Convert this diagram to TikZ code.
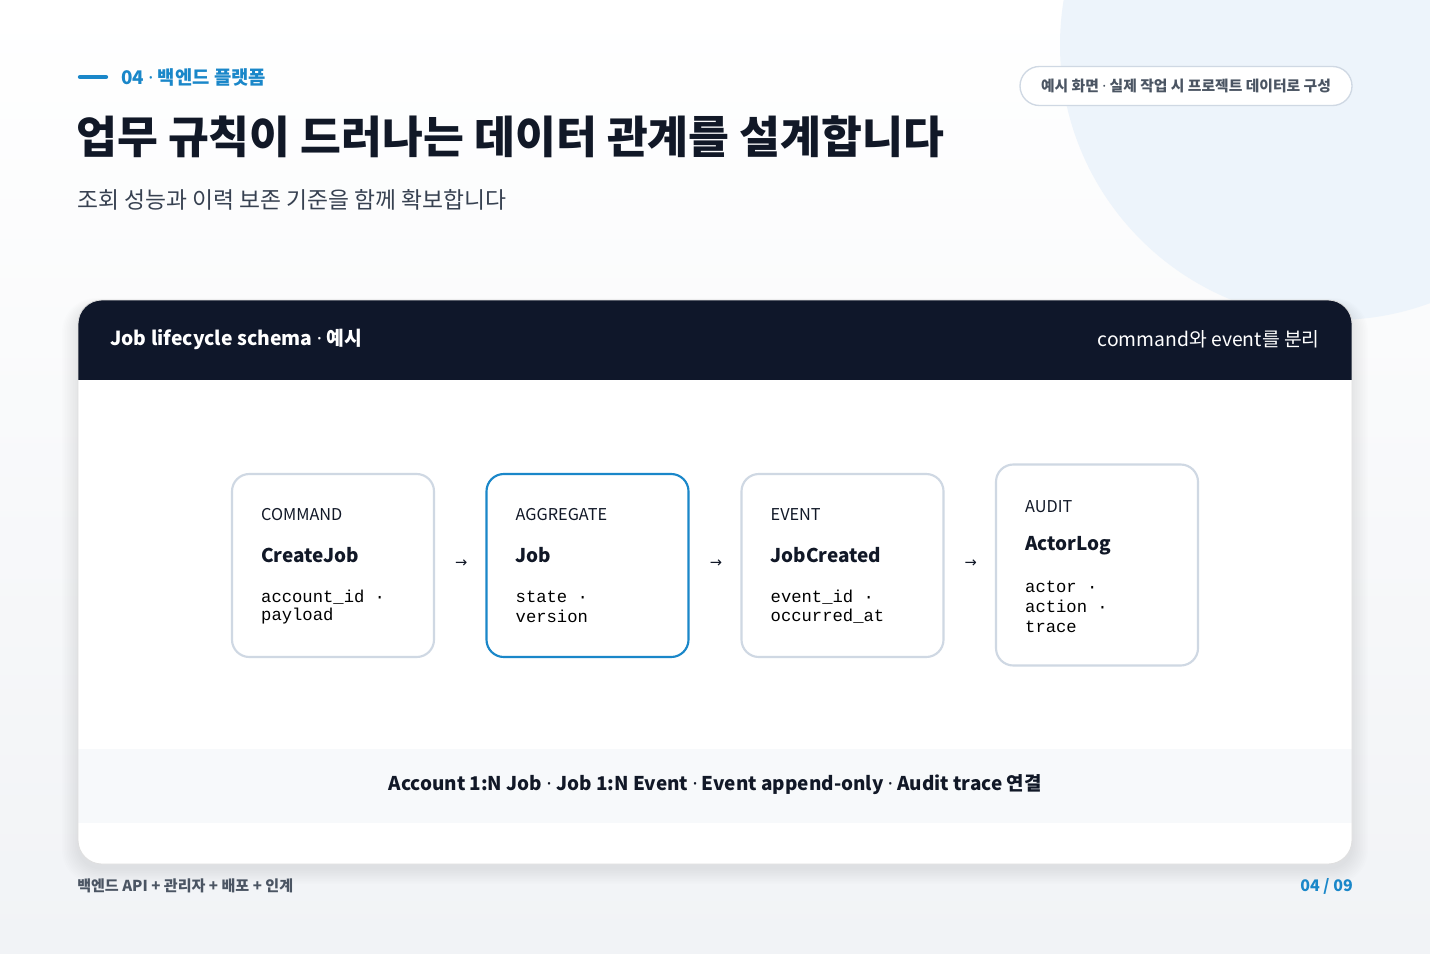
\documentclass[tikz,border=0pt]{standalone}
\usepackage{fontspec}
\setmainfont{Noto Sans CJK KR}
\newfontfamily\monof{Liberation Mono}
\newfontfamily\symf{DejaVu Sans}
\newfontfamily\latf{Noto Sans}
\newcommand\md{{\latf ·}}
\usetikzlibrary{calc}
\definecolor{navy}{HTML}{0F172A}
\definecolor{ink}{HTML}{111827}
\definecolor{subink}{HTML}{374151}
\definecolor{muted}{HTML}{4B5563}
\definecolor{accent}{HTML}{1A87C9}
\definecolor{edge}{HTML}{CFD8E3}
\definecolor{circ}{HTML}{EDF4FB}
\definecolor{bandc}{HTML}{F7F9FB}
\definecolor{bgbot}{HTML}{F1F3F6}
\newcommand\fs[1]{\fontsize{#1}{#1}\selectfont}
\tikzset{
  card box/.style={draw=edge, line width=1.6pt, fill=white, rounded corners=13pt, inner sep=0pt},
  kind/.style={anchor=west, inner sep=0pt, text=ink, font=\fs{12.2}},
  ttl/.style={anchor=west, inner sep=0pt, text=ink, font=\fs{14.2}\bfseries},
  fld/.style={anchor=west, inner sep=0pt, text=black, font=\monof\fs{12.9}},
  arr/.style={inner sep=0pt, text=ink, font=\symf\fs{11}},
}
\begin{document}
\begin{tikzpicture}[x=0.75pt,y=-0.75pt]
\useasboundingbox (0,0) rectangle (1430,953);
\shade[top color=white, bottom color=bgbot] (0,0) rectangle (1430,953);
\fill[circ] (1335,45) circle (275);
% header texts
\draw[accent, line width=3.2pt, line cap=round] (80,77) -- (106,77);
\node[anchor=west, inner sep=0pt, text=accent, font=\fs{14.1}\bfseries] (kick) at (121,77) {04 \md{} 백엔드 플랫폼};
\node[anchor=west, inner sep=0pt, text=ink, font=\fs{33.3}\bfseries] (title) at (76,137) {업무 규칙이 드러나는 데이터 관계를 설계합니다};
\node[anchor=west, inner sep=0pt, text=subink, font=\fs{17.1}] (sub) at (77,200) {조회 성능과 이력 보존 기준을 함께 확보합니다};
\node[draw=edge, line width=1pt, fill=white, rounded corners=14.6pt, minimum width={332*0.75pt}, minimum height={39*0.75pt}, inner sep=0pt, text=muted, font=\fs{11.1}\bfseries] (pill) at (1186,86) {예시 화면 \md{} 실제 작업 시 프로젝트 데이터로 구성};
% card shadow
\foreach \i in {1,...,10}{
  \fill[black, opacity=0.008, rounded corners={18pt+\i*0.75pt}] ({78-\i*1.6},{300-\i*0.8+6}) rectangle ({1352+\i*1.6},{864+\i*1.6+4});
}
% card
\fill[white, rounded corners=18pt] (78,300) rectangle (1352,864);
\begin{scope}
  \clip[rounded corners=18pt] (78,300) rectangle (1352,864);
  \fill[navy] (78,300) rectangle (1352,380);
  \fill[bandc] (78,749) rectangle (1352,823);
\end{scope}
\draw[gray!25, line width=0.6pt, rounded corners=18pt] (78,300) rectangle (1352,864);
\node[anchor=west, inner sep=0pt, text=white, font=\fs{14.5}\bfseries] (hl) at (110,339) {Job lifecycle schema \md{} 예시};
\node[anchor=east, inner sep=0pt, text=white, font=\fs{14.5}] (hr) at (1320,339) {command와 event를 분리};
% boxes
\node[card box, minimum width={202*0.75pt}, minimum height={183*0.75pt}] (b1) at (333,565.5) {};
\node[card box, draw=accent, minimum width={202*0.75pt}, minimum height={183*0.75pt}] (b2) at (587.5,565.5) {};
\node[card box, minimum width={202*0.75pt}, minimum height={183*0.75pt}] (b3) at (842.5,565.5) {};
\node[card box, minimum width={202*0.75pt}, minimum height={201*0.75pt}] (b4) at (1097,565) {};
% box 1
\node[kind] (k1) at ($(b1.north west)+(30,42)$) {COMMAND};
\node[ttl] (t1) at ($(b1.north west)+(30,82)$) {CreateJob};
\node[fld] (f1a) at ($(b1.north west)+(30,124)$) {account\_id ·};
\node[fld] (f1b) at ($(b1.north west)+(30,143)$) {payload};
% box 2
\node[kind] (k2) at ($(b2.north west)+(30,42)$) {AGGREGATE};
\node[ttl] (t2) at ($(b2.north west)+(30,82)$) {Job};
\node[fld] (f2a) at ($(b2.north west)+(30,124)$) {state ·};
\node[fld] (f2b) at ($(b2.north west)+(30,143)$) {version};
% box 3
\node[kind] (k3) at ($(b3.north west)+(30,42)$) {EVENT};
\node[ttl] (t3) at ($(b3.north west)+(30,82)$) {JobCreated};
\node[fld] (f3a) at ($(b3.north west)+(30,124)$) {event\_id ·};
\node[fld] (f3b) at ($(b3.north west)+(30,143)$) {occurred\_at};
% box 4
\node[kind] (k4) at ($(b4.north west)+(30,43)$) {AUDIT};
\node[ttl] (t4) at ($(b4.north west)+(30,82)$) {ActorLog};
\node[fld] (f4a) at ($(b4.north west)+(30,123)$) {actor ·};
\node[fld] (f4b) at ($(b4.north west)+(30,143)$) {action ·};
\node[fld] (f4c) at ($(b4.north west)+(30,163)$) {trace};
% arrows
\node[arr] (a1) at ($(b1.east)!0.5!(b2.west)+(1,-2)$) {→};
\node[arr] (a2) at ($(b2.east)!0.5!(b3.west)+(1,-2)$) {→};
\node[arr] (a3) at ($(b3.east)!0.5!(b4.west)+(1,-2)$) {→};
% band text
\node[inner sep=0pt, text=ink, font=\fs{14.2}\bfseries] (rel) at (715,785) {Account 1:N Job \md{} Job 1:N Event \md{} Event append-only \md{} Audit trace 연결};
% footer
\node[anchor=west, inner sep=0pt, text=muted, font=\fs{11.3}\bfseries] (fl) at (77,886) {백엔드 API + 관리자 + 배포 + 인계};
\node[anchor=east, inner sep=0pt, text=accent, font=\fs{12}\bfseries] (fr) at (1353,886) {04 / 09};
\end{tikzpicture}
\end{document}
